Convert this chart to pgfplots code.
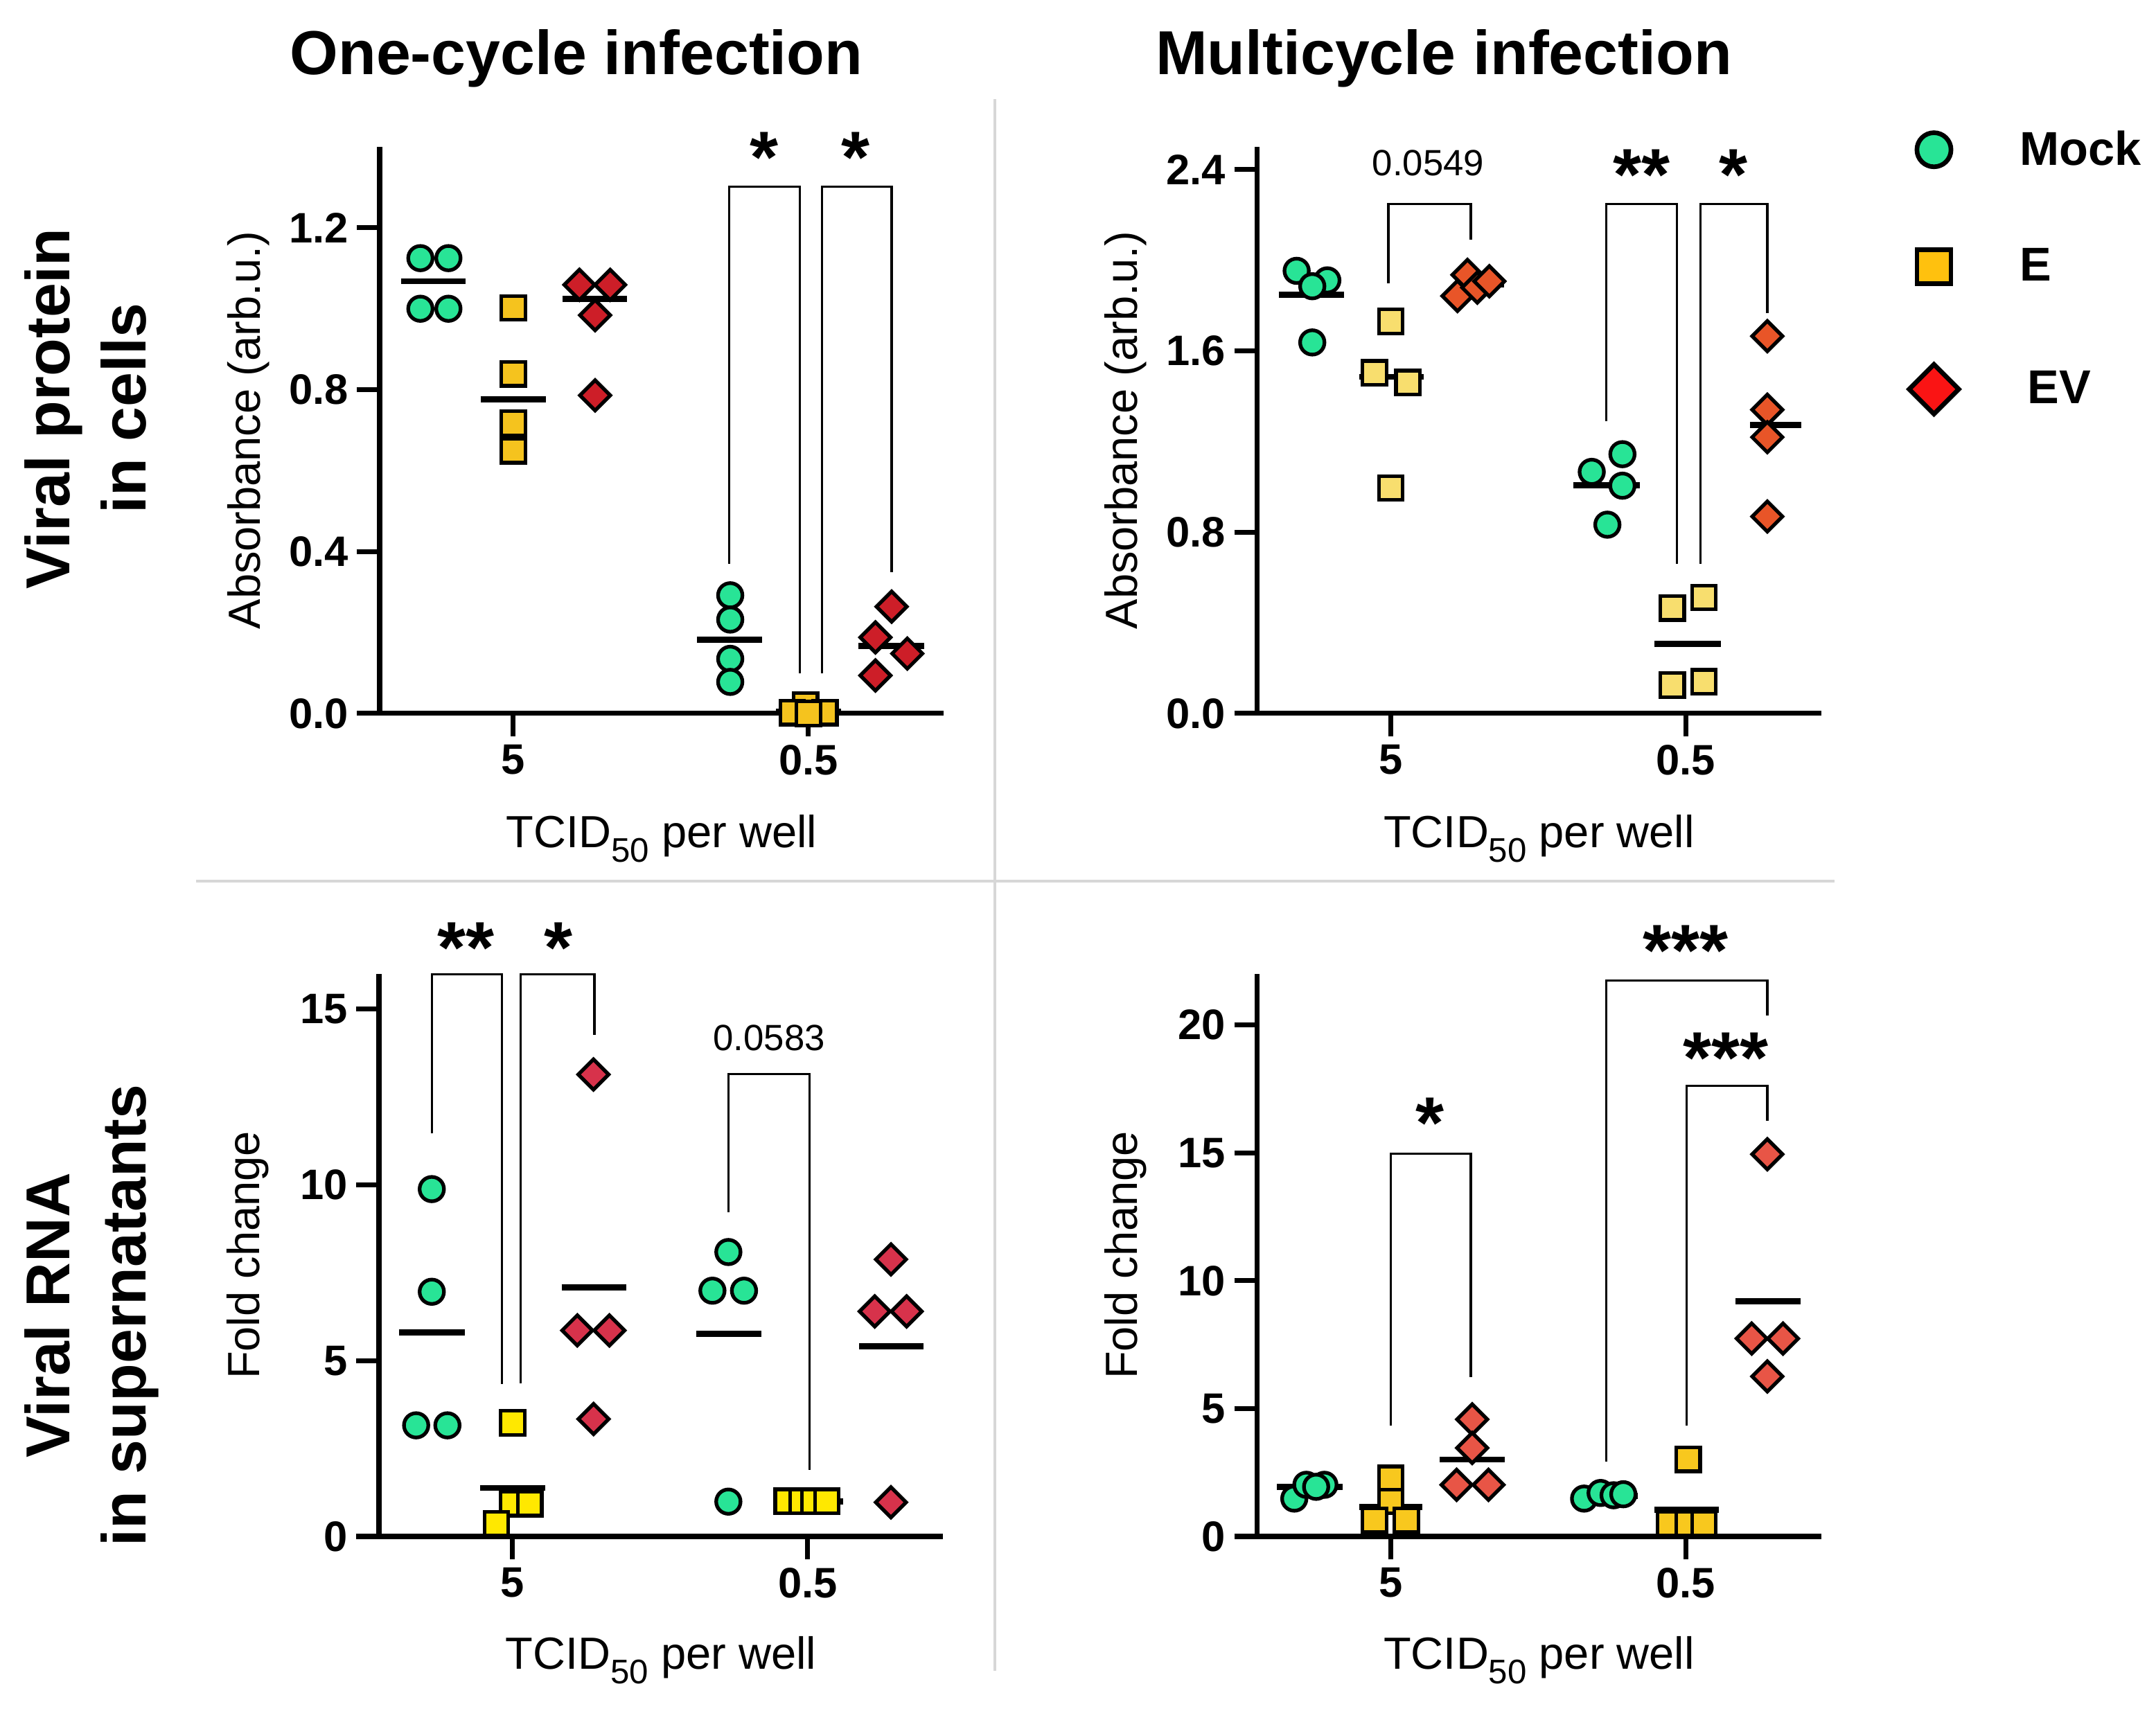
\documentclass[border=0pt]{standalone}
\usepackage{fontspec}
\setmainfont{Liberation Sans}
\setsansfont{Liberation Sans}
\usepackage{pgfplots}
\pgfplotsset{compat=1.18}

\definecolor{mock}{RGB}{40,228,150}
\definecolor{legE}{RGB}{255,193,14}
\definecolor{legEV}{RGB}{250,20,20}
\definecolor{Ea}{RGB}{245,195,30}
\definecolor{EVa}{RGB}{205,30,40}
\definecolor{Eb}{RGB}{248,222,110}
\definecolor{EVb}{RGB}{232,85,40}
\definecolor{Ec}{RGB}{255,232,0}
\definecolor{EVc}{RGB}{215,50,75}
\definecolor{Ed}{RGB}{248,200,30}
\definecolor{EVd}{RGB}{232,85,70}
\definecolor{sep}{RGB}{215,215,215}

\newcommand\tickfont{\fontsize{17.5pt}{19pt}\selectfont\bfseries}
\newcommand\labfont{\fontsize{18.5pt}{20pt}\selectfont}
\newcommand\titfont{\fontsize{25.5pt}{28pt}\selectfont\bfseries}
\newcommand\pfont{\fontsize{15pt}{17pt}\selectfont}
\newcommand\starfont{\fontsize{30pt}{32pt}\selectfont\bfseries}
\newcommand\legfont{\fontsize{19.5pt}{21pt}\selectfont\bfseries}
\newcommand\tcid{TCID\raisebox{-6pt}{\fontsize{14pt}{15pt}\selectfont 50} per well}

\pgfplotsset{
  panel/.style={
    scale only axis, width=8.14cm, clip=false, anchor=south west,
    axis lines=left, axis line style={-, line width=2pt},
    tick align=outside, major tick length=3.3mm,
    every tick/.style={line width=2pt, black},
    xmin=0.547, xmax=2.458, xtick={1,2}, xticklabels={5,0.5},
    ticklabel style={font=\tickfont},
    /pgf/number format/assume math mode=true,
    xlabel={\tcid},
    xlabel style={font=\labfont, at={(axis description cs:0.5,-0.236)}, anchor=base},
    ylabel style={font=\labfont, at={(axis description cs:-0.233,0.5)}, anchor=center},
  },
  mk/.style={only marks, mark=*, mark size=5pt,
    mark options={solid, fill=#1, draw=black, line width=1.5pt}},
  sq/.style={only marks, mark=square*, mark size=4.9pt,
    mark options={solid, fill=#1, draw=black, line width=1.5pt}},
  dm/.style={only marks, mark=square*, mark size=4.4pt,
    mark options={solid, rotate=45, fill=#1, draw=black, line width=1.5pt}},
  med/.style={black, line width=2.5pt},
  br/.style={black, line width=0.9pt},
}
\tikzset{
  star/.style={font=\starfont, inner sep=0pt, anchor=center, yshift=-1.0mm},
  pval/.style={font=\pfont, inner sep=0pt, anchor=base},
}

\begin{document}
\begin{tikzpicture}
\useasboundingbox (0,0) rectangle (31.12,24.83);

% separators
\draw[sep, line width=0.9pt] (14.36,23.40) -- (14.36,0.71);
\draw[sep, line width=0.9pt] (2.83,12.11) -- (26.48,12.11);

% column titles and row labels
\node[font=\titfont, anchor=base] at (8.32,23.75) {One-cycle infection};
\node[font=\titfont, anchor=base] at (20.84,23.75) {Multicycle infection};
\node[font=\titfont, anchor=base, rotate=90] at (1.00,18.93) {Viral protein};
\node[font=\titfont, anchor=base, rotate=90] at (2.10,18.93) {in cells};
\node[font=\titfont, anchor=base, rotate=90] at (1.00,5.84) {Viral RNA};
\node[font=\titfont, anchor=base, rotate=90] at (2.10,5.84) {in supernatants};

% A: one-cycle, viral protein
\begin{axis}[panel, at={(5.48cm,14.53cm)}, height=8.18cm,
  ymin=0, ymax=1.4, ytick={0,0.4,0.8,1.2},
  yticklabel style={/pgf/number format/.cd, fixed, fixed zerofill, precision=1},
  ylabel={Absorbance (arb.u.)}]
\addplot[mk=mock] coordinates {(0.685,1.125) (0.780,1.125) (0.685,1.00) (0.780,1.00)
  (1.735,0.292) (1.735,0.232) (1.735,0.135) (1.735,0.078)};
\addplot[sq=Ea] coordinates {(1,1.002) (1,0.839) (1,0.717) (1,0.649)
  (1.99,0.021) (1.945,0.002) (2.056,0.002) (2.0,0.0)};
\addplot[dm=EVa] coordinates {(1.224,1.059) (1.328,1.059) (1.277,0.984) (1.277,0.786)
  (2.282,0.264) (2.227,0.188) (2.335,0.148) (2.227,0.094)};
\addplot[med] coordinates {(0.619,1.068) (0.837,1.068)};
\addplot[med] coordinates {(0.889,0.776) (1.111,0.776)};
\addplot[med] coordinates {(1.166,1.024) (1.386,1.024)};
\addplot[med] coordinates {(1.622,0.182) (1.842,0.182)};
\addplot[med] coordinates {(1.890,0.005) (2.110,0.005)};
\addplot[med] coordinates {(2.169,0.167) (2.393,0.167)};
\addplot[br] coordinates {(1.731,0.370) (1.731,1.302) (1.970,1.302) (1.970,0.099)};
\addplot[br] coordinates {(2.045,0.099) (2.045,1.302) (2.282,1.302) (2.282,0.349)};
\node[star] at (axis cs:1.849,1.391) {*};
\node[star] at (axis cs:2.161,1.391) {*};
\end{axis}

% B: multicycle, viral protein
\begin{axis}[panel, at={(18.145cm,14.53cm)}, height=8.18cm,
  ymin=0, ymax=2.5, ytick={0,0.8,1.6,2.4},
  yticklabel style={/pgf/number format/.cd, fixed, fixed zerofill, precision=1},
  ylabel={Absorbance (arb.u.)},
  legend cell align=left,
  legend image code/.code={\draw[#1] plot coordinates {(0,0)};},
  legend style={at={(axis description cs:1.1554,1.0293)}, anchor=north west,
    draw=none, fill=none, inner sep=0pt, nodes={inner sep=0pt},
    row sep=11.5mm, font=\legfont,
    /tikz/every odd column/.append style={column sep=8.8mm}}]
\addlegendimage{only marks, mark=*, mark size=7pt,
  mark options={solid, fill=mock, draw=black, line width=1.9pt}}
\addlegendentry{Mock}
\addlegendimage{only marks, mark=square*, mark size=7pt,
  mark options={solid, fill=legE, draw=black, line width=1.9pt}}
\addlegendentry{E}
\addlegendimage{only marks, mark=square*, mark size=7.2pt,
  mark options={solid, rotate=45, fill=legEV, draw=black, line width=1.9pt}}
\addlegendentry{\hspace{1.1mm}EV}
\addplot[mk=mock, forget plot] coordinates {(0.681,1.953) (0.785,1.911) (0.734,1.885) (0.734,1.637)
  (1.785,1.144) (1.681,1.066) (1.785,1.005) (1.734,0.833)};
\addplot[sq=Eb, forget plot] coordinates {(1,1.730) (0.945,1.503) (1.058,1.460) (1,0.995)
  (1.954,0.465) (2.061,0.512) (1.954,0.125) (2.061,0.140)};
\addplot[dm=EVb, forget plot] coordinates {(1.260,1.935) (1.226,1.842) (1.293,1.879) (1.334,1.907)
  (2.276,1.665) (2.276,1.340) (2.276,1.219) (2.276,0.869)};
\addplot[med, forget plot] coordinates {(0.620,1.847) (0.841,1.847)};
\addplot[med, forget plot] coordinates {(0.893,1.485) (1.111,1.485)};
\addplot[med, forget plot] coordinates {(1.213,1.892) (1.383,1.892)};
\addplot[med, forget plot] coordinates {(1.618,1.008) (1.843,1.008)};
\addplot[med, forget plot] coordinates {(1.893,0.307) (2.119,0.307)};
\addplot[med, forget plot] coordinates {(2.218,1.274) (2.392,1.274)};
\addplot[br, forget plot] coordinates {(0.992,1.898) (0.992,2.247) (1.271,2.247) (1.271,2.089)};
\addplot[br, forget plot] coordinates {(1.731,1.289) (1.731,2.247) (1.970,2.247) (1.970,0.660)};
\addplot[br, forget plot] coordinates {(2.050,0.660) (2.050,2.247) (2.276,2.247) (2.276,1.767)};
\node[pval] at (axis cs:1.127,2.372) {0.0549};
\node[star] at (axis cs:1.850,2.409) {**};
\node[star] at (axis cs:2.160,2.409) {*};
\end{axis}

% C: one-cycle, viral RNA
\begin{axis}[panel, at={(5.47cm,2.65cm)}, height=8.12cm,
  ymin=0, ymax=16, ytick={0,5,10,15},
  ylabel={Fold change}]
\addplot[mk=mock] coordinates {(0.726,9.88) (0.726,6.96) (0.673,3.16) (0.779,3.16)
  (1.731,8.09) (1.677,6.99) (1.784,6.99) (1.731,0.99)};
\addplot[sq=Ec] coordinates {(1,3.23) (1,0.93) (1.058,0.93) (0.945,0.36)
  (1.930,1.0) (1.980,1.0) (2.020,1.0) (2.065,1.0)};
\addplot[dm=EVc] coordinates {(1.274,13.14) (1.219,5.86) (1.328,5.86) (1.274,3.34)
  (2.282,7.88) (2.227,6.40) (2.335,6.40) (2.282,0.97)};
\addplot[med] coordinates {(0.615,5.80) (0.837,5.80)};
\addplot[med] coordinates {(0.889,1.38) (1.111,1.38)};
\addplot[med] coordinates {(1.166,7.08) (1.386,7.08)};
\addplot[med] coordinates {(1.622,5.76) (1.842,5.76)};
\addplot[med] coordinates {(1.900,1.00) (2.119,1.00)};
\addplot[med] coordinates {(2.174,5.41) (2.393,5.41)};
\addplot[br] coordinates {(0.726,11.46) (0.726,15.99) (0.964,15.99) (0.964,4.33)};
\addplot[br] coordinates {(1.028,4.36) (1.028,15.99) (1.277,15.99) (1.277,14.27)};
\addplot[br] coordinates {(1.731,9.22) (1.731,13.16) (2.007,13.16) (2.007,1.89)};
\node[star] at (axis cs:0.842,16.95) {**};
\node[star] at (axis cs:1.154,16.95) {*};
\node[pval] at (axis cs:1.869,13.82) {0.0583};
\end{axis}

% D: multicycle, viral RNA
\begin{axis}[panel, at={(18.145cm,2.65cm)}, height=8.12cm,
  ymin=0, ymax=22, ytick={0,5,10,15,20},
  ylabel={Fold change}]
\addplot[mk=mock] coordinates {(0.673,1.48) (0.714,2.02) (0.775,2.02) (0.747,1.94)
  (1.655,1.48) (1.711,1.70) (1.755,1.61) (1.788,1.65)};
\addplot[sq=Ed] coordinates {(1,2.27) (1,1.37) (0.945,0.63) (1.053,0.63)
  (2.008,3.01) (1.945,0.49) (2.008,0.49) (2.061,0.49)};
\addplot[dm=EVd] coordinates {(1.276,4.58) (1.276,3.46) (1.223,2.02) (1.331,2.02)
  (2.276,14.95) (2.223,7.74) (2.329,7.74) (2.276,6.26)};
\addplot[med] coordinates {(0.615,1.94) (0.838,1.94)};
\addplot[med] coordinates {(0.893,1.15) (1.107,1.15)};
\addplot[med] coordinates {(1.165,3.01) (1.387,3.01)};
\addplot[med] coordinates {(1.623,1.58) (1.838,1.58)};
\addplot[med] coordinates {(1.893,1.04) (2.111,1.04)};
\addplot[med] coordinates {(2.169,9.19) (2.388,9.19)};
\addplot[br] coordinates {(1.000,4.33) (1.000,14.98) (1.271,14.98) (1.271,6.22)};
\addplot[br] coordinates {(1.731,2.93) (1.731,21.75) (2.276,21.75) (2.276,20.38)};
\addplot[br] coordinates {(2.003,4.33) (2.003,17.63) (2.276,17.63) (2.276,16.26)};
\node[star] at (axis cs:1.132,16.43) {*};
\node[star] at (axis cs:2.000,23.18) {***};
\node[star] at (axis cs:2.136,18.98) {***};
\end{axis}
\end{tikzpicture}
\end{document}
